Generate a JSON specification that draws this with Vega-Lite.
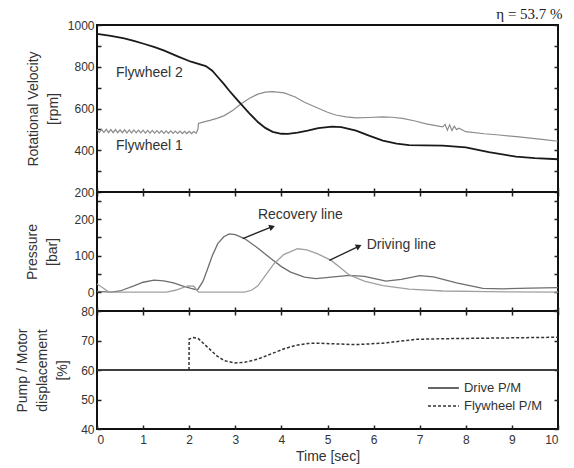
{
"$schema": "https://vega.github.io/schema/vega-lite/v6.json",
"title": {"text": "η = 53.7 %", "anchor": "end", "font": "Liberation Serif", "fontSize": 15, "fontWeight": "normal", "color": "#222", "offset": -4},
"padding": {"left": 14, "top": 7, "right": 10, "bottom": 2},
"bounds": "flush",
"spacing": 0,
"resolve": {"scale": {"strokeDash": "independent"}, "legend": {"strokeDash": "independent"}},
"config": {
  "view": {"stroke": "#111", "strokeWidth": 2},
  "axis": {"labelFont": "Liberation Sans", "titleFont": "Liberation Sans", "labelColor": "#333", "titleColor": "#333", "labelFontSize": 12, "titleFontSize": 14, "titleFontWeight": "normal", "domain": false, "grid": false, "tickColor": "#222", "tickWidth": 1.5, "titleLineHeight": 20, "format": "d"},
  "text": {"font": "Liberation Sans", "fontSize": 14, "color": "#333"}
},
"datasets": {
  "vel": [
    {"t":0,"v":500,"s":"F1"},{"t":0.05,"v":485,"s":"F1"},{"t":0.1,"v":500,"s":"F1"},{"t":0.15,"v":485,"s":"F1"},{"t":0.2,"v":500,"s":"F1"},{"t":0.25,"v":484,"s":"F1"},{"t":0.3,"v":499,"s":"F1"},{"t":0.35,"v":484,"s":"F1"},{"t":0.4,"v":499,"s":"F1"},{"t":0.45,"v":484,"s":"F1"},{"t":0.5,"v":498,"s":"F1"},{"t":0.55,"v":484,"s":"F1"},{"t":0.6,"v":498,"s":"F1"},{"t":0.65,"v":483,"s":"F1"},{"t":0.7,"v":497,"s":"F1"},{"t":0.75,"v":483,"s":"F1"},{"t":0.8,"v":497,"s":"F1"},{"t":0.85,"v":483,"s":"F1"},{"t":0.9,"v":496,"s":"F1"},{"t":0.95,"v":483,"s":"F1"},{"t":1.0,"v":496,"s":"F1"},{"t":1.05,"v":482,"s":"F1"},{"t":1.1,"v":495,"s":"F1"},{"t":1.15,"v":482,"s":"F1"},{"t":1.2,"v":495,"s":"F1"},{"t":1.25,"v":482,"s":"F1"},{"t":1.3,"v":494,"s":"F1"},{"t":1.35,"v":482,"s":"F1"},{"t":1.4,"v":494,"s":"F1"},{"t":1.45,"v":481,"s":"F1"},{"t":1.5,"v":493,"s":"F1"},{"t":1.55,"v":481,"s":"F1"},{"t":1.6,"v":493,"s":"F1"},{"t":1.65,"v":481,"s":"F1"},{"t":1.7,"v":492,"s":"F1"},{"t":1.75,"v":481,"s":"F1"},{"t":1.8,"v":492,"s":"F1"},{"t":1.85,"v":480,"s":"F1"},{"t":1.9,"v":491,"s":"F1"},{"t":1.95,"v":480,"s":"F1"},{"t":2.0,"v":491,"s":"F1"},{"t":2.05,"v":480,"s":"F1"},{"t":2.1,"v":490,"s":"F1"},{"t":2.15,"v":481,"s":"F1"},
    {"t":2.19,"v":500,"s":"F1"},{"t":2.2,"v":528,"s":"F1"},{"t":2.3,"v":535,"s":"F1"},{"t":2.45,"v":543,"s":"F1"},{"t":2.6,"v":553,"s":"F1"},{"t":2.76,"v":566,"s":"F1"},{"t":2.95,"v":592,"s":"F1"},{"t":3.12,"v":622,"s":"F1"},{"t":3.3,"v":648,"s":"F1"},{"t":3.49,"v":669,"s":"F1"},{"t":3.65,"v":678,"s":"F1"},{"t":3.81,"v":681,"s":"F1"},{"t":4.06,"v":675,"s":"F1"},{"t":4.3,"v":655,"s":"F1"},{"t":4.5,"v":630,"s":"F1"},{"t":4.75,"v":606,"s":"F1"},{"t":5.0,"v":582,"s":"F1"},{"t":5.18,"v":569,"s":"F1"},{"t":5.4,"v":560,"s":"F1"},{"t":5.62,"v":555,"s":"F1"},{"t":5.9,"v":557,"s":"F1"},{"t":6.2,"v":560,"s":"F1"},{"t":6.4,"v":558,"s":"F1"},{"t":6.63,"v":553,"s":"F1"},{"t":6.9,"v":540,"s":"F1"},{"t":7.14,"v":526,"s":"F1"},{"t":7.35,"v":518,"s":"F1"},{"t":7.5,"v":512,"s":"F1"},{"t":7.55,"v":524,"s":"F1"},{"t":7.6,"v":496,"s":"F1"},{"t":7.65,"v":522,"s":"F1"},{"t":7.7,"v":494,"s":"F1"},{"t":7.75,"v":515,"s":"F1"},{"t":7.8,"v":499,"s":"F1"},{"t":7.85,"v":506,"s":"F1"},{"t":8.0,"v":489,"s":"F1"},{"t":8.4,"v":479,"s":"F1"},{"t":8.73,"v":473,"s":"F1"},{"t":9.1,"v":465,"s":"F1"},{"t":9.45,"v":457,"s":"F1"},{"t":9.7,"v":451,"s":"F1"},{"t":10,"v":443,"s":"F1"},
    {"t":0,"v":958,"s":"F2"},{"t":0.3,"v":948,"s":"F2"},{"t":0.59,"v":936,"s":"F2"},{"t":0.8,"v":924,"s":"F2"},{"t":1.03,"v":909,"s":"F2"},{"t":1.25,"v":894,"s":"F2"},{"t":1.46,"v":877,"s":"F2"},{"t":1.75,"v":850,"s":"F2"},{"t":2.04,"v":824,"s":"F2"},{"t":2.2,"v":814,"s":"F2"},{"t":2.36,"v":803,"s":"F2"},{"t":2.5,"v":781,"s":"F2"},{"t":2.62,"v":751,"s":"F2"},{"t":2.75,"v":718,"s":"F2"},{"t":2.87,"v":685,"s":"F2"},{"t":3.0,"v":652,"s":"F2"},{"t":3.12,"v":622,"s":"F2"},{"t":3.3,"v":578,"s":"F2"},{"t":3.49,"v":535,"s":"F2"},{"t":3.65,"v":507,"s":"F2"},{"t":3.81,"v":488,"s":"F2"},{"t":4.0,"v":479,"s":"F2"},{"t":4.14,"v":478,"s":"F2"},{"t":4.35,"v":484,"s":"F2"},{"t":4.57,"v":494,"s":"F2"},{"t":4.8,"v":506,"s":"F2"},{"t":5.1,"v":513,"s":"F2"},{"t":5.3,"v":511,"s":"F2"},{"t":5.62,"v":494,"s":"F2"},{"t":5.9,"v":470,"s":"F2"},{"t":6.2,"v":446,"s":"F2"},{"t":6.5,"v":432,"s":"F2"},{"t":6.77,"v":425,"s":"F2"},{"t":7.1,"v":423,"s":"F2"},{"t":7.5,"v":422,"s":"F2"},{"t":8.0,"v":414,"s":"F2"},{"t":8.5,"v":391,"s":"F2"},{"t":9.09,"v":369,"s":"F2"},{"t":9.5,"v":362,"s":"F2"},{"t":10,"v":357,"s":"F2"}
  ],
  "pres": [
    {"t":0,"p":2,"s":"R"},{"t":0.3,"p":0,"s":"R"},{"t":0.5,"p":3,"s":"R"},{"t":0.8,"p":17,"s":"R"},{"t":1.0,"p":27,"s":"R"},{"t":1.24,"p":33,"s":"R"},{"t":1.45,"p":31,"s":"R"},{"t":1.66,"p":25,"s":"R"},{"t":1.85,"p":17,"s":"R"},{"t":2.04,"p":10,"s":"R"},{"t":2.18,"p":6,"s":"R"},{"t":2.3,"p":30,"s":"R"},{"t":2.4,"p":64,"s":"R"},{"t":2.5,"p":100,"s":"R"},{"t":2.62,"p":133,"s":"R"},{"t":2.75,"p":152,"s":"R"},{"t":2.87,"p":160,"s":"R"},{"t":3.0,"p":158,"s":"R"},{"t":3.2,"p":147,"s":"R"},{"t":3.5,"p":120,"s":"R"},{"t":3.77,"p":92,"s":"R"},{"t":4.0,"p":70,"s":"R"},{"t":4.2,"p":55,"s":"R"},{"t":4.5,"p":41,"s":"R"},{"t":4.75,"p":37,"s":"R"},{"t":5.08,"p":41,"s":"R"},{"t":5.47,"p":46,"s":"R"},{"t":5.8,"p":43,"s":"R"},{"t":6.27,"p":30,"s":"R"},{"t":6.6,"p":35,"s":"R"},{"t":7.0,"p":45,"s":"R"},{"t":7.3,"p":42,"s":"R"},{"t":7.8,"p":25,"s":"R"},{"t":8.37,"p":10,"s":"R"},{"t":8.8,"p":9,"s":"R"},{"t":9.4,"p":11,"s":"R"},{"t":10,"p":12,"s":"R"},
    {"t":0,"p":22,"s":"D"},{"t":0.1,"p":14,"s":"D"},{"t":0.26,"p":0,"s":"D"},{"t":1.5,"p":0,"s":"D"},{"t":1.7,"p":5,"s":"D"},{"t":1.97,"p":17,"s":"D"},{"t":2.1,"p":16,"s":"D"},{"t":2.2,"p":0,"s":"D"},{"t":3.2,"p":0,"s":"D"},{"t":3.35,"p":5,"s":"D"},{"t":3.49,"p":17,"s":"D"},{"t":3.65,"p":45,"s":"D"},{"t":3.84,"p":78,"s":"D"},{"t":4.05,"p":103,"s":"D"},{"t":4.35,"p":119,"s":"D"},{"t":4.55,"p":116,"s":"D"},{"t":4.79,"p":105,"s":"D"},{"t":5.08,"p":87,"s":"D"},{"t":5.3,"p":65,"s":"D"},{"t":5.47,"p":47,"s":"D"},{"t":5.8,"p":30,"s":"D"},{"t":6.2,"p":18,"s":"D"},{"t":6.77,"p":8,"s":"D"},{"t":7.5,"p":3,"s":"D"},{"t":8.5,"p":1,"s":"D"},{"t":10,"p":0,"s":"D"}
  ],
  "disp": [
    {"t":0,"d":60,"s":"Drive P/M"},{"t":10,"d":60,"s":"Drive P/M"},
    {"t":1.995,"d":60,"s":"Flywheel P/M"},{"t":2.0,"d":70.5,"s":"Flywheel P/M"},{"t":2.1,"d":71,"s":"Flywheel P/M"},{"t":2.2,"d":70.6,"s":"Flywheel P/M"},{"t":2.4,"d":67.7,"s":"Flywheel P/M"},{"t":2.6,"d":64.8,"s":"Flywheel P/M"},{"t":2.76,"d":63.2,"s":"Flywheel P/M"},{"t":2.98,"d":62.4,"s":"Flywheel P/M"},{"t":3.2,"d":62.6,"s":"Flywheel P/M"},{"t":3.49,"d":63.7,"s":"Flywheel P/M"},{"t":3.8,"d":65.6,"s":"Flywheel P/M"},{"t":4.06,"d":67.2,"s":"Flywheel P/M"},{"t":4.3,"d":68.3,"s":"Flywheel P/M"},{"t":4.57,"d":69.0,"s":"Flywheel P/M"},{"t":4.8,"d":69.1,"s":"Flywheel P/M"},{"t":5.1,"d":68.9,"s":"Flywheel P/M"},{"t":5.62,"d":68.6,"s":"Flywheel P/M"},{"t":6.2,"d":69.1,"s":"Flywheel P/M"},{"t":6.6,"d":69.8,"s":"Flywheel P/M"},{"t":6.92,"d":70.4,"s":"Flywheel P/M"},{"t":7.5,"d":70.6,"s":"Flywheel P/M"},{"t":8.0,"d":70.7,"s":"Flywheel P/M"},{"t":9.0,"d":70.9,"s":"Flywheel P/M"},{"t":10,"d":71.1,"s":"Flywheel P/M"}
  ]
},
"vconcat": [
  {
    "width": 461, "height": 167,
    "resolve": {"axis": {"x": "independent", "y": "independent"}},
    "layer": [
      {
        "data": {"name": "vel"},
        "transform": [{"filter": "datum.s == 'F1'"}],
        "mark": {"type": "line", "stroke": "#8c8c8c", "strokeWidth": 1.2},
        "encoding": {
          "x": {"field": "t", "type": "quantitative", "scale": {"domain": [0, 10], "nice": false}, "axis": {"orient": "bottom", "values": [0,1,2,3,4,5,6,7,8,9,10], "labels": false, "title": null, "tickSize": 4}},
          "y": {"field": "v", "type": "quantitative", "scale": {"domain": [200, 1000], "nice": false}, "axis": {"orient": "left", "values": [200,300,400,500,600,700,800,900,1000], "labelExpr": "datum.value % 200 == 0 ? datum.label : ''", "tickSize": -4, "labelPadding": 7, "title": ["Rotational Velocity", "[rpm]"], "titlePadding": 7}}
        }
      },
      {
        "data": {"name": "vel"},
        "transform": [{"filter": "datum.s == 'F2'"}],
        "mark": {"type": "line", "stroke": "#1a1a1a", "strokeWidth": 1.8},
        "encoding": {
          "x": {"field": "t", "type": "quantitative", "axis": null},
          "y": {"field": "v", "type": "quantitative", "axis": {"orient": "right", "values": [200,300,400,500,600,700,800,900,1000], "labels": false, "title": null, "tickSize": -4}}
        }
      },
      {
        "data": {"values": [{}]},
        "mark": {"type": "text", "text": "Flywheel 2", "align": "left", "baseline": "middle"},
        "encoding": {"x": {"datum": 0.41, "type": "quantitative", "axis": null}, "y": {"datum": 770, "type": "quantitative", "axis": null}}
      },
      {
        "data": {"values": [{}]},
        "mark": {"type": "text", "text": "Flywheel 1", "align": "left", "baseline": "middle"},
        "encoding": {"x": {"datum": 0.41, "type": "quantitative", "axis": null}, "y": {"datum": 422, "type": "quantitative", "axis": null}}
      }
    ]
  },
  {
    "width": 461, "height": 119,
    "resolve": {"axis": {"x": "independent", "y": "independent"}},
    "layer": [
      {
        "data": {"name": "pres"},
        "transform": [{"filter": "datum.s == 'R'"}],
        "mark": {"type": "line", "stroke": "#6e6e6e", "strokeWidth": 1.3},
        "encoding": {
          "x": {"field": "t", "type": "quantitative", "scale": {"domain": [0, 10], "nice": false}, "axis": {"orient": "top", "values": [0,1,2,3,4,5,6,7,8,9,10], "labels": false, "title": null, "tickSize": 4}},
          "y": {"field": "p", "type": "quantitative", "scale": {"domain": [-52, 275], "nice": false, "zero": false}, "axis": {"orient": "left", "values": [0,50,100,150,200,250], "labelExpr": "datum.value % 100 == 0 ? datum.label : ''", "tickSize": -4, "labelPadding": 7, "title": ["Pressure", "[bar]"], "titlePadding": 14}}
        }
      },
      {
        "data": {"name": "pres"},
        "transform": [{"filter": "datum.s == 'D'"}],
        "mark": {"type": "line", "stroke": "#a0a0a0", "strokeWidth": 1.3},
        "encoding": {
          "x": {"field": "t", "type": "quantitative", "axis": {"orient": "bottom", "values": [0,1,2,3,4,5,6,7,8,9,10], "labels": false, "title": null, "tickSize": 4}},
          "y": {"field": "p", "type": "quantitative", "axis": {"orient": "right", "values": [-50,0,50,100,150,200,250], "labels": false, "title": null, "tickSize": -4}}
        }
      },
      {
        "data": {"values": [{}]},
        "mark": {"type": "text", "text": "Recovery line", "align": "left", "baseline": "middle"},
        "encoding": {"x": {"datum": 3.49, "type": "quantitative", "axis": null}, "y": {"datum": 212, "type": "quantitative", "axis": null}}
      },
      {
        "data": {"values": [{}]},
        "mark": {"type": "text", "text": "Driving line", "align": "left", "baseline": "middle"},
        "encoding": {"x": {"datum": 5.85, "type": "quantitative", "axis": null}, "y": {"datum": 129, "type": "quantitative", "axis": null}}
      },
      {
        "data": {"values": [{}]},
        "mark": {"type": "rule", "stroke": "#222", "strokeWidth": 1.3},
        "encoding": {"x": {"datum": 3.16, "type": "quantitative", "axis": null}, "y": {"datum": 147, "type": "quantitative", "axis": null}, "x2": {"datum": 3.75}, "y2": {"datum": 177}}
      },
      {
        "data": {"values": [{}]},
        "mark": {"type": "point", "shape": "triangle-right", "filled": true, "color": "#222", "size": 45, "angle": -21, "opacity": 1},
        "encoding": {"x": {"datum": 3.8, "type": "quantitative", "axis": null}, "y": {"datum": 179, "type": "quantitative", "axis": null}}
      },
      {
        "data": {"values": [{}]},
        "mark": {"type": "rule", "stroke": "#222", "strokeWidth": 1.3},
        "encoding": {"x": {"datum": 5.04, "type": "quantitative", "axis": null}, "y": {"datum": 87, "type": "quantitative", "axis": null}, "x2": {"datum": 5.63}, "y2": {"datum": 123}}
      },
      {
        "data": {"values": [{}]},
        "mark": {"type": "point", "shape": "triangle-right", "filled": true, "color": "#222", "size": 45, "angle": -25, "opacity": 1},
        "encoding": {"x": {"datum": 5.68, "type": "quantitative", "axis": null}, "y": {"datum": 126, "type": "quantitative", "axis": null}}
      }
    ]
  },
  {
    "width": 461, "height": 118,
    "resolve": {"axis": {"x": "independent", "y": "independent"}},
    "layer": [
      {
        "data": {"name": "disp"},
        "mark": {"type": "line", "stroke": "#333", "strokeWidth": 1.5},
        "encoding": {
          "x": {"field": "t", "type": "quantitative", "scale": {"domain": [0, 10], "nice": false}, "axis": {"orient": "bottom", "values": [0,1,2,3,4,5,6,7,8,9,10], "tickSize": -4, "labelPadding": 9, "title": "Time [sec]", "titlePadding": 4}},
          "y": {"field": "d", "type": "quantitative", "scale": {"domain": [40, 80], "nice": false, "zero": false}, "axis": {"orient": "left", "values": [40,50,60,70,80], "tickSize": -4, "labelPadding": 7, "title": ["Pump / Motor", "displacement", "[%]"], "titlePadding": 11}},
          "strokeDash": {"field": "s", "type": "nominal", "scale": {"domain": ["Drive P/M", "Flywheel P/M"], "range": [[1, 0], [3, 2]]}, "legend": null}
        }
      },
      {
        "data": {"name": "disp"},
        "transform": [{"filter": "datum.s == 'Drive P/M'"}],
        "mark": {"type": "line", "stroke": "#333", "strokeWidth": 1.5},
        "encoding": {
          "x": {"field": "t", "type": "quantitative", "axis": {"orient": "top", "values": [0,1,2,3,4,5,6,7,8,9,10], "labels": false, "title": null, "tickSize": 4}},
          "y": {"field": "d", "type": "quantitative", "axis": {"orient": "right", "values": [40,50,60,70,80], "labels": false, "title": null, "tickSize": -4}}
        }
      },
      {
        "data": {"values": [{}]},
        "mark": {"type": "rule", "stroke": "#333", "strokeWidth": 1.5},
        "encoding": {"x": {"datum": 7.18, "type": "quantitative", "axis": null}, "x2": {"datum": 7.85}, "y": {"datum": 53.9, "type": "quantitative", "axis": null}}
      },
      {
        "data": {"values": [{}]},
        "mark": {"type": "rule", "stroke": "#333", "strokeWidth": 1.5, "strokeDash": [3, 2]},
        "encoding": {"x": {"datum": 7.18, "type": "quantitative", "axis": null}, "x2": {"datum": 7.85}, "y": {"datum": 47.8, "type": "quantitative", "axis": null}}
      },
      {
        "data": {"values": [{}]},
        "mark": {"type": "text", "text": "Drive P/M", "align": "left", "baseline": "middle", "fontSize": 13},
        "encoding": {"x": {"datum": 7.96, "type": "quantitative", "axis": null}, "y": {"datum": 53.9, "type": "quantitative", "axis": null}}
      },
      {
        "data": {"values": [{}]},
        "mark": {"type": "text", "text": "Flywheel P/M", "align": "left", "baseline": "middle", "fontSize": 13},
        "encoding": {"x": {"datum": 7.96, "type": "quantitative", "axis": null}, "y": {"datum": 47.8, "type": "quantitative", "axis": null}}
      }
    ]
  }
]
}
